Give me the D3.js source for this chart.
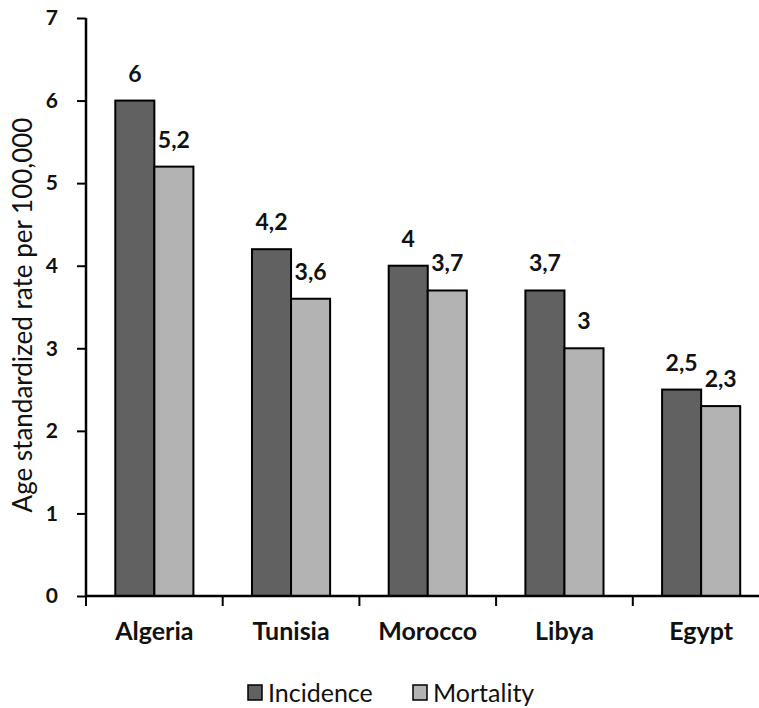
<!DOCTYPE html>
<html>
<head>
<meta charset="utf-8">
<script src="https://cdn.jsdelivr.net/npm/d3@7/dist/d3.min.js"></script>
<style>
  html, body { margin: 0; padding: 0; background: #fff; }
  svg { display: block; }
</style>
</head>
<body>
<svg id="chart" width="759" height="708"></svg>
<script>
const categories = ["Algeria", "Tunisia", "Morocco", "Libya", "Egypt"];
const seriesNames = ["Incidence", "Mortality"];
const incidence = [6, 4.2, 4, 3.7, 2.5];
const mortality = [5.2, 3.6, 3.7, 3, 2.3];
const valueLabels = {
  Incidence: ["6", "4,2", "4", "3,7", "2,5"],
  Mortality: ["5,2", "3,6", "3,7", "3", "2,3"]
};
const yTicks = [0, 1, 2, 3, 4, 5, 6, 7];
const colors = { Incidence: "#616161", Mortality: "#b3b3b3" };

const seriesValues = { Incidence: incidence, Mortality: mortality };
const FONT = "Lato, 'Open Sans', sans-serif";

const svg = d3.select("#chart");
const mLeft = 86, mTop = 18, mBottom = 596, mRight = 769.5;

const y = d3.scaleLinear().domain([0, 7]).range([mBottom, mTop]);
const x0 = d3.scaleBand().domain(categories).range([mLeft, mRight]).padding(0);
const x1 = d3.scaleBand().domain(seriesNames).range([0, x0.bandwidth()]).paddingInner(0).paddingOuter(0.75);

// bars
const groups = svg.append("g").selectAll("g")
  .data(categories)
  .join("g")
  .attr("transform", d => `translate(${x0(d)},0)`);

const rowData = (c, i) => seriesNames.map(s => ({ s, v: seriesValues[s][i], label: valueLabels[s][i] }));

groups.selectAll("rect")
  .data(rowData)
  .join("rect")
  .attr("x", d => x1(d.s))
  .attr("y", d => y(d.v))
  .attr("width", x1.bandwidth())
  .attr("height", d => y(0) - y(d.v))
  .attr("fill", d => colors[d.s])
  .attr("stroke", "#000")
  .attr("stroke-width", 2);

groups.selectAll("text.val")
  .data(rowData)
  .join("text")
  .attr("class", "val")
  .attr("x", d => x1(d.s) + x1.bandwidth() / 2)
  .attr("y", d => y(d.v) - 19)
  .attr("text-anchor", "middle")
  .attr("font-family", FONT)
  .attr("font-weight", "bold")
  .attr("font-size", 23)
  .attr("fill", "#111")
  .text(d => d.label);

// y axis
const yAxis = svg.append("g")
  .attr("transform", `translate(${mLeft},0)`)
  .call(d3.axisLeft(y).tickValues(yTicks).tickFormat(d3.format("d")).tickSize(9).tickPadding(19));
yAxis.select(".domain").attr("stroke", "#000").attr("stroke-width", 2.5).attr("d", `M0,${mTop}V${mBottom}`);
yAxis.selectAll(".tick line").attr("stroke", "#000").attr("stroke-width", 2);
yAxis.selectAll(".tick text")
  .attr("font-family", FONT).attr("font-weight", "bold").attr("font-size", 21).attr("fill", "#111");

// x axis
const boundaries = categories.map(c => x0(c));
const xAxis = svg.append("g").attr("transform", `translate(0,${mBottom})`);
xAxis.append("path")
  .attr("d", `M${mLeft},0H${mRight}`)
  .attr("stroke", "#000").attr("stroke-width", 2.5).attr("fill", "none");
xAxis.selectAll("line.tk")
  .data(boundaries)
  .join("line")
  .attr("class", "tk")
  .attr("x1", d => d).attr("x2", d => d)
  .attr("y1", 0).attr("y2", 10)
  .attr("stroke", "#000").attr("stroke-width", 2);
xAxis.selectAll("text")
  .data(categories)
  .join("text")
  .attr("x", d => x0(d) + x0.bandwidth() / 2)
  .attr("y", 44)
  .attr("text-anchor", "middle")
  .attr("font-family", FONT).attr("font-weight", "bold").attr("font-size", 25).attr("fill", "#111")
  .text(d => d);

// y label
svg.append("text")
  .attr("transform", `translate(32,${(mTop + mBottom) / 2 + 8}) rotate(-90)`)
  .attr("text-anchor", "middle")
  .attr("font-family", FONT).attr("font-size", 26).attr("fill", "#111")
  .text("Age standardized rate per 100,000");

// legend
const legendX = [248, 413];
const legend = svg.append("g").selectAll("g")
  .data(seriesNames)
  .join("g")
  .attr("transform", (d, i) => `translate(${legendX[i]},685)`);
legend.append("rect")
  .attr("width", 14).attr("height", 15)
  .attr("fill", d => colors[d]).attr("stroke", "#000").attr("stroke-width", 1.5);
legend.append("text")
  .attr("x", 20).attr("y", 17)
  .attr("font-family", FONT).attr("font-size", 25).attr("fill", "#111")
  .text(d => d);
</script>
</body>
</html>
